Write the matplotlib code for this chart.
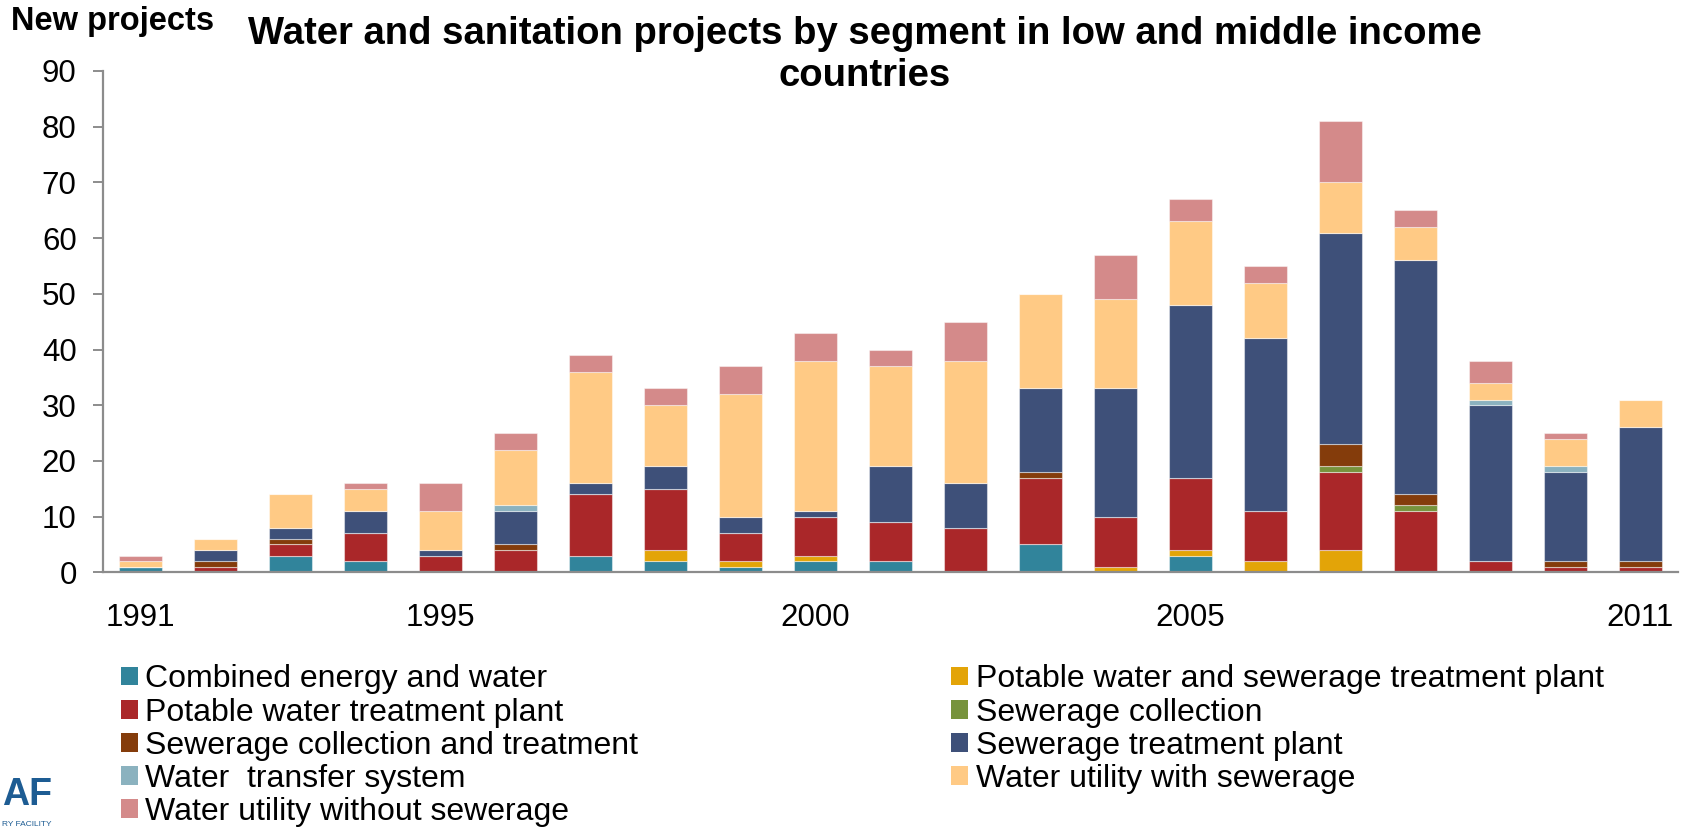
import numpy as np
import matplotlib
matplotlib.use('Agg')
import matplotlib.pyplot as plt
from matplotlib.patches import Patch

plt.rcParams['font.family'] = ['Liberation Sans', 'DejaVu Sans']

years = list(range(1991, 2012))
shown_years = {1991, 1995, 2000, 2005, 2011}

# stacking order, bottom to top
segments = [
    "Combined energy and water",
    "Potable water and sewerage treatment plant",
    "Potable water treatment plant",
    "Sewerage collection",
    "Sewerage collection and treatment",
    "Sewerage treatment plant",
    "Water  transfer system",
    "Water utility with sewerage",
    "Water utility without sewerage",
]
colors = ['#31849B', '#E3A408', '#AA2729', '#77933C', '#843C0B',
          '#3E5079', '#8BB2BF', '#FFCA85', '#D48A8A']

#                     91 92 93 94 95 96 97 98 99 00 01 02 03 04 05 06 07 08 09 10 11
combined_energy    = [1, 0, 3, 2, 0, 0, 3, 2, 1, 2, 2, 0, 5, 0, 3, 0, 0, 0, 0, 0, 0]
potable_sewerage   = [0, 0, 0, 0, 0, 0, 0, 2, 1, 1, 0, 0, 0, 1, 1, 2, 4, 0, 0, 0, 0]
potable_plant      = [0, 1, 2, 5, 3, 4, 11, 11, 5, 7, 7, 8, 12, 9, 13, 9, 14, 11, 2, 1, 1]
sewer_collection   = [0, 0, 0, 0, 0, 0, 0, 0, 0, 0, 0, 0, 0, 0, 0, 0, 1, 1, 0, 0, 0]
sewer_coll_treat   = [0, 1, 1, 0, 0, 1, 0, 0, 0, 0, 0, 0, 1, 0, 0, 0, 4, 2, 0, 1, 1]
sewer_plant        = [0, 2, 2, 4, 1, 6, 2, 4, 3, 1, 10, 8, 15, 23, 31, 31, 38, 42, 28, 16, 24]
water_transfer     = [0, 0, 0, 0, 0, 1, 0, 0, 0, 0, 0, 0, 0, 0, 0, 0, 0, 0, 1, 1, 0]
utility_with_sew   = [1, 2, 6, 4, 7, 10, 20, 11, 22, 27, 18, 22, 17, 16, 15, 10, 9, 6, 3, 5, 5]
utility_without    = [1, 0, 0, 1, 5, 3, 3, 3, 5, 5, 3, 7, 0, 8, 4, 3, 11, 3, 4, 1, 0]

series = [combined_energy, potable_sewerage, potable_plant, sewer_collection,
          sewer_coll_treat, sewer_plant, water_transfer, utility_with_sew,
          utility_without]

fig = plt.figure(figsize=(16.84, 8.32), dpi=100)
ax = fig.add_axes([0.0612, 0.3121, 0.9352, 0.6026])

x = np.arange(len(years))
bottom = np.zeros(len(years))
for vals, col in zip(series, colors):
    vals = np.array(vals, dtype=float)
    ax.bar(x, vals, width=0.57, bottom=bottom, color=col,
           edgecolor=(1, 1, 1, 0.45), linewidth=0.8)
    bottom += vals

ax.set_xlim(-0.5, len(years) - 0.5)
ax.set_ylim(0, 90)
ax.set_yticks(range(0, 91, 10))
ax.set_xticks(x)
ax.set_xticklabels([str(y) if y in shown_years else '' for y in years])

for s in ['top', 'right']:
    ax.spines[s].set_visible(False)
for s in ['left', 'bottom']:
    ax.spines[s].set_color('#8c8c8c')
    ax.spines[s].set_linewidth(1.6)
ax.tick_params(axis='y', length=7, width=1.4, color='#8c8c8c',
               labelsize=22.5, pad=12)
ax.tick_params(axis='x', length=0, labelsize=22.5, pad=22)

fig.text(0.0065, 0.974, 'New projects', fontsize=23.5, fontweight='bold',
         va='center', ha='left')
fig.text(0.5137, 0.934,
         'Water and sanitation projects by segment in low and middle income\ncountries',
         fontsize=27.5, fontweight='bold', ha='center', va='center',
         linespacing=1.2)

handles = [Patch(facecolor=c, edgecolor='none') for c in colors]
left_idx = [0, 2, 4, 6, 8]
right_idx = [1, 3, 5, 7]
leg_kw = dict(frameon=False, fontsize=23, handlelength=0.53,
              handleheight=0.53, handletextpad=0.25, labelspacing=0.1,
              borderpad=0, borderaxespad=0, loc='upper left')
fig.legend([handles[i] for i in left_idx], [segments[i] for i in left_idx],
           bbox_to_anchor=(0.0716, 0.2015), **leg_kw)
fig.legend([handles[i] for i in right_idx], [segments[i] for i in right_idx],
           bbox_to_anchor=(0.5645, 0.2015), **leg_kw)

# logo fragment at bottom left
fig.text(0.001, 0.045, 'AF', fontsize=27, fontweight='bold',
         color='#1D5C93', ha='left', va='center')
fig.text(0.001, 0.009, 'RY FACILITY', fontsize=6, color='#1D5C93',
         ha='left', va='center')

fig.savefig('out.png', dpi=100)
